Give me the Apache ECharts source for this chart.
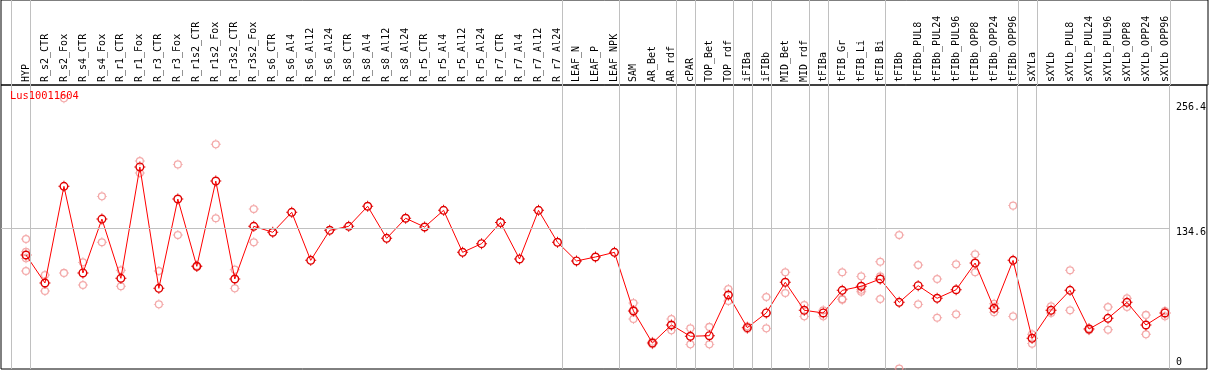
<!DOCTYPE html>
<html>
<head>
<meta charset="utf-8">
<style>
  html, body { margin: 0; padding: 0; background: #fff; }
  #chart { width: 1209px; height: 370px; }
</style>
<script src="https://cdn.jsdelivr.net/npm/echarts@6/dist/echarts.min.js"></script>
</head>
<body>
<div id="chart"></div>
<script>
const title = 'Lus10011604';
const categories = ['HYP','R_s2_CTR','R_s2_Fox','R_s4_CTR','R_s4_Fox','R_r1_CTR','R_r1_Fox','R_r3_CTR','R_r3_Fox','R_r1s2_CTR','R_r1s2_Fox','R_r3s2_CTR','R_r3s2_Fox','R_s6_CTR','R_s6_Al4','R_s6_Al12','R_s6_Al24','R_s8_CTR','R_s8_Al4','R_s8_Al12','R_s8_Al24','R_r5_CTR','R_r5_Al4','R_r5_Al12','R_r5_Al24','R_r7_CTR','R_r7_Al4','R_r7_Al12','R_r7_Al24','LEAF_N','LEAF_P','LEAF_NPK','SAM','AR_Bet','AR_rdf','cPAR','TOP_Bet','TOP_rdf','iFIBa','iFIBb','MID_Bet','MID_rdf','tFIBa','tFIB_Gr','tFIB_Li','tFIB_Bi','tFIBb','tFIBb_PUL8','tFIBb_PUL24','tFIBb_PUL96','tFIBb_OPP8','tFIBb_OPP24','tFIBb_OPP96','sXYLa','sXYLb','sXYLb_PUL8','sXYLb_PUL24','sXYLb_PUL96','sXYLb_OPP8','sXYLb_OPP24','sXYLb_OPP96'];
const means = [107.8,79.6,177.0,89.7,144.0,84.3,196.5,74.2,164.2,96.4,182.3,83.6,136.7,130.7,150.8,102.4,132.7,136.7,156.9,124.6,144.8,136.0,152.8,110.5,119.2,140.5,103.8,152.8,120.6,101.8,105.8,110.5,51.4,19.1,37.3,25.9,26.5,67.5,34.6,49.4,80.3,52.1,49.4,72.2,76.3,83.6,60.1,76.9,64.2,72.8,99.7,54.1,102.4,23.9,52.1,72.2,33.2,44.0,60.1,37.3,49.4];
const rep1 = [123.9,87.6,265.6,100.4,166.9,92.4,202.5,91.7,199.1,97.0,219.3,93.0,154.1,null,null,null,null,null,null,null,null,null,null,null,null,null,null,null,null,null,null,null,59.4,20.4,43.3,33.9,35.3,73.5,35.9,65.5,90.4,57.4,52.1,90.4,86.3,101.0,127.9,97.7,83.6,98.4,108.5,58.7,157.5,27.9,56.1,92.4,33.9,55.4,64.2,47.4,51.4];
const rep2 = [111.0,71.5,89.7,77.6,120.6,76.3,190.4,58.1,127.9,95.8,144.8,74.2,120.6,null,null,null,null,null,null,null,null,null,null,null,null,null,null,null,null,null,null,null,52.5,17.8,31.9,17.8,17.8,61.5,33.2,33.9,69.5,46.0,46.0,63.4,72.8,86.3,-6.7,58.1,44.6,48.0,90.4,50.1,46.0,18.5,49.4,52.1,31.9,32.5,55.4,27.9,46.0];
const rep3 = [104.4,null,null,null,null,null,null,null,null,null,null,null,null,null,null,null,null,null,null,null,null,null,null,null,null,null,null,null,null,null,null,null,43.3,null,null,null,null,null,null,null,null,null,null,62.8,70.8,63.5,null,null,null,null,null,null,null,null,null,null,null,null,null,null,null];
const rep4 = [91.7,null,null,null,null,null,null,null,null,null,null,null,null,null,null,null,null,null,null,null,null,null,null,null,null,null,null,null,null,null,null,null,null,null,null,null,null,null,null,null,null,null,null,null,null,null,null,null,null,null,null,null,null,null,null,null,null,null,null,null,null];
const yTickLabels = [0, 134.6, 256.4];
const separatorsAfter = [-1, 0, 28, 31, 34, 35, 37, 38, 39, 41, 42, 45, 52, 53, 60];
const refLineValue = 134.6;

const XMIN = -1.3158, XMAX = 62.2105;
const YMIN = -7.052, YMAX = 279.07;
const FONT = 'DejaVu Sans Mono';
// ring with four small ticks (marker glyph)
const RING = 'path://M10,55A45,45 0 1,1 100,55A45,45 0 1,1 10,55Z M24,55A31,31 0 1,0 86,55A31,31 0 1,0 24,55Z M50,0L60,0L60,12L50,12Z M50,98L60,98L60,110L50,110Z M0,50L12,50L12,60L0,60Z M98,50L110,50L110,60L98,60Z';

const repData = [];
[rep1, rep2, rep3, rep4].forEach(arr => arr.forEach((v, i) => { if (v !== null) repData.push([i, v]); }));
const meanData = means.map((v, i) => [i, v]);
const sepLines = separatorsAfter.map(v => ({ xAxis: v + 0.24 }));
const idx = categories.map((c, i) => i);

const chart = echarts.init(document.getElementById('chart'), null, { renderer: 'canvas' });
chart.setOption({
  animation: false,
  backgroundColor: '#fff',
  title: {
    text: title, left: 10, top: 91, padding: 0,
    textStyle: { color: '#ff0000', fontSize: 10.4, fontFamily: FONT, fontWeight: 'normal' }
  },
  grid: [
    { left: 1, top: 0, width: 1207, height: 85, show: true, borderColor: '#000', borderWidth: 1, backgroundColor: 'transparent' },
    { left: 1, top: 85, width: 1207, height: 284, show: true, borderColor: '#000', borderWidth: 1, backgroundColor: 'transparent' }
  ],
  xAxis: [
    {
      type: 'value', gridIndex: 0, min: XMIN, max: XMAX,
      axisLine: { show: false }, axisTick: { show: false }, splitLine: { show: false }, axisLabel: { show: false }
    },
    {
      type: 'value', gridIndex: 1, min: XMIN, max: XMAX, position: 'top',
      axisLine: { show: false }, axisTick: { show: false }, splitLine: { show: false },
      axisLabel: {
        customValues: idx, rotate: 90, margin: 3, color: '#000', fontSize: 10, fontFamily: FONT,
        formatter: v => categories[Math.round(v)] || ''
      }
    }
  ],
  yAxis: [
    { type: 'value', gridIndex: 0, min: 0, max: 1, show: false },
    {
      type: 'value', gridIndex: 1, min: YMIN, max: YMAX, position: 'right',
      axisLine: { show: false }, axisTick: { show: false }, splitLine: { show: false },
      axisLabel: {
        inside: true, customValues: yTickLabels, align: 'left', margin: 31,
        color: '#000', fontSize: 10, fontFamily: FONT,
        formatter: v => (Math.abs(v - 134.6) < 1e-6 ? '{d|' + v + '}' : String(v)),
        rich: { d: { padding: [9, 0, 0, 0], color: '#000', fontSize: 10, fontFamily: FONT } }
      }
    }
  ],
  series: [
    {
      type: 'line', xAxisIndex: 0, yAxisIndex: 0, data: [[0, -5]], showSymbol: false, silent: true,
      lineStyle: { width: 0 },
      markLine: { silent: true, symbol: 'none', label: { show: false },
        lineStyle: { color: '#c0c0c0', width: 1, type: 'solid' }, data: sepLines }
    },
    {
      type: 'scatter', xAxisIndex: 1, yAxisIndex: 1, data: repData, symbol: RING, symbolSize: 10, silent: true,
      itemStyle: { color: '#f09494', borderWidth: 0 },
      markLine: { silent: true, symbol: 'none', label: { show: false },
        lineStyle: { color: '#c0c0c0', width: 1, type: 'solid' },
        data: sepLines.concat([[{ coord: [XMIN, refLineValue] }, { coord: [60.24, refLineValue] }]]) },
      z: 2
    },
    {
      type: 'line', xAxisIndex: 1, yAxisIndex: 1, data: meanData, symbol: RING, symbolSize: 11,
      showAllSymbol: true, silent: true,
      lineStyle: { color: '#ff0000', width: 1 },
      itemStyle: { color: '#e00000', borderWidth: 0 },
      z: 3
    }
  ]
});
</script>
</body>
</html>
